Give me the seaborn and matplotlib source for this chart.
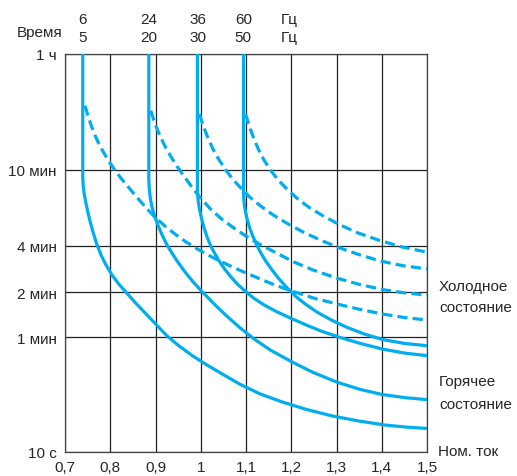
import numpy as np
import pandas as pd
import matplotlib
matplotlib.use("Agg")
import matplotlib.pyplot as plt
import seaborn as sns

# ---------------- data (current in p.u., time in seconds) ----------------
freq_top = ["6", "24", "36", "60"]
freq_bottom = ["5", "20", "30", "50"]
freq_pos = [0.739, 0.885, 0.993, 1.094]

# hot state (solid)
hot1_x = [0.7392, 0.7392, 0.7403, 0.7425, 0.7458, 0.7500, 0.7553, 0.7619, 0.7701, 0.7796, 0.7907,
          0.8040, 0.8195, 0.8372, 0.8571, 0.8792, 0.9013, 0.9257, 0.9522, 0.9810, 1.0119, 1.0473,
          1.0872, 1.1314, 1.1801, 1.2332, 1.2907, 1.3482, 1.4058, 1.4544, 1.5]
hot1_t = [3600, 551, 494, 449, 407, 365, 323, 283, 245, 209, 180,
          155, 135, 118, 101, 85.9, 73.1, 61.2, 52.4, 45.1, 39.2, 33.8,
          28.7, 24.7, 21.8, 19.4, 17.5, 16.2, 15.2, 14.7, 14.4]

hot2_x = [0.8852, 0.8852, 0.8863, 0.8885, 0.8918, 0.8960, 0.9013, 0.9080, 0.9157, 0.9250, 0.9367,
          0.9500, 0.9655, 0.9832, 1.0031, 1.0296, 1.0584, 1.0872, 1.1181, 1.1535, 1.1978, 1.2465,
          1.3011, 1.3527, 1.4007, 1.4522, 1.5]
hot2_t = [3600, 538, 477, 427, 388, 356, 327, 297, 270, 243, 214,
          187, 162, 140, 121, 100.2, 82.7, 69.3, 58.4, 49.2, 41.4, 34.8,
          29.7, 26.5, 24.5, 23.3, 22.6]

hot3_x = [0.9927, 0.9927, 0.9942, 0.9976, 1.0020, 1.0075, 1.0142, 1.0219, 1.0308, 1.0407, 1.0518,
          1.0650, 1.0805, 1.0982, 1.1181, 1.1403, 1.1668, 1.1978, 1.2332, 1.2686, 1.3084, 1.3527,
          1.4013, 1.45, 1.5]
hot3_t = [3600, 465, 412, 370, 331, 297, 266, 240, 214, 191, 171,
          153, 136, 122, 109, 98.7, 89.3, 80.8, 72.5, 65.6, 59.8, 54.5,
          49.9, 46.9, 45.0]

hot4_x = [1.0945, 1.0945, 1.0960, 1.0989, 1.1031, 1.1084, 1.1148, 1.1226, 1.1314, 1.1425, 1.1558,
          1.1712, 1.1889, 1.2088, 1.2310, 1.2566, 1.2885, 1.3239, 1.3615, 1.4013, 1.45, 1.5]
hot4_t = [3600, 443, 397, 361, 327, 297, 270, 245, 219, 193, 170,
          148.5, 130, 113.3, 100.2, 88.6, 78.3, 69.8, 63.1, 58.0, 54.5, 52.6]

# cold state (dashed)
cold1_x = [0.7442, 0.7509, 0.7575, 0.7642, 0.7730, 0.7841, 0.7951, 0.8084, 0.8217, 0.8372, 0.8527,
           0.8681, 0.8836, 0.9013, 0.9212, 0.9434, 0.9677, 0.9942, 1.0230, 1.0540, 1.0872, 1.1226,
           1.1602, 1.2022, 1.2487, 1.3011, 1.3527, 1.4013, 1.45, 1.5]
cold1_t = [1616, 1379, 1201, 1061, 924, 798, 700, 610, 551, 497, 449,
           407, 370, 335, 304, 276, 251, 227, 204, 184, 166, 150,
           135, 122, 110, 100.2, 92.1, 85.9, 81.4, 78.3]

cold2_x = [0.8896, 0.8947, 0.9013, 0.9102, 0.9212, 0.9345, 0.9478, 0.9633, 0.9810, 0.9987, 1.0208,
           1.0451, 1.0717, 1.1015, 1.1336, 1.1690, 1.2066, 1.2487, 1.2996, 1.3504, 1.4013, 1.45, 1.5]
cold2_t = [1496, 1337, 1173, 1013, 862, 733, 634, 555, 486, 430, 376,
           333, 299, 268, 242, 214, 188, 167, 148.5, 135, 125, 119, 115]

cold3_x = [0.9971, 1.0020, 1.0086, 1.0164, 1.0263, 1.0385, 1.0529, 1.0695, 1.0883, 1.1093, 1.1336,
           1.1602, 1.1912, 1.2265, 1.2642, 1.3040, 1.3482, 1.3969, 1.4478, 1.5]
cold3_t = [1422, 1277, 1120, 975, 836, 717, 614, 541, 483, 430, 386,
           348, 314, 283, 257, 234, 211, 191, 178, 170]

cold4_x = [1.0989, 1.1038, 1.1104, 1.1181, 1.1281, 1.1403, 1.1546, 1.1712, 1.1912, 1.2133, 1.2398,
           1.2708, 1.3062, 1.3460, 1.3925, 1.4434, 1.5]
cold4_t = [1422, 1277, 1111, 960, 817, 695, 597, 532, 474, 425, 381,
           344, 310, 281, 257, 236, 218]

x_ticks = [0.7, 0.8, 0.9, 1.0, 1.1, 1.2, 1.3, 1.4, 1.5]
x_labels = ["0,7", "0,8", "0,9", "1", "1,1", "1,2", "1,3", "1,4", "1,5"]
y_ticks = [10, 60, 120, 240, 600, 3600]
y_labels = ["10 с", "1 мин", "2 мин", "4 мин", "10 мин", "1 ч"]

# ---------------- figure ----------------
sns.set_style("white")
plt.rcParams["font.family"] = ["Liberation Sans", "DejaVu Sans"]
FS = 11
BLUE = "#00AEEF"

fig = plt.figure(figsize=(5.17, 4.77), dpi=100)
ax = fig.add_axes([65 / 517, (477 - 452.7) / 477, (427 - 65) / 517, (452.7 - 54.7) / 477])

# non-uniform time axis (as drawn in the original)
LOGK = np.log10(np.array(y_ticks, dtype=float))
POS = np.array([0, 114.4, 159.4, 206, 281.7, 398])


def fwd(t):
    return np.interp(np.log10(np.clip(np.asarray(t, dtype=float), 1e-6, None)), LOGK, POS)


def inv(p):
    return 10 ** np.interp(np.asarray(p, dtype=float), POS, LOGK)


ax.set_yscale("function", functions=(fwd, inv))

rows = []
for name, xs, ts, state in [
    ("c1", cold1_x, cold1_t, "cold"), ("c2", cold2_x, cold2_t, "cold"),
    ("c3", cold3_x, cold3_t, "cold"), ("c4", cold4_x, cold4_t, "cold"),
    ("h1", hot1_x, hot1_t, "hot"), ("h2", hot2_x, hot2_t, "hot"),
    ("h3", hot3_x, hot3_t, "hot"), ("h4", hot4_x, hot4_t, "hot"),
]:
    for i, (xv, tv) in enumerate(zip(xs, ts)):
        rows.append({"curve": name, "current": xv, "time": tv, "state": state, "order": i})
df = pd.DataFrame(rows)

for name, sub in df.groupby("curve", sort=False):
    dashed = sub["state"].iloc[0] == "cold"
    sns.lineplot(data=sub, x="current", y="time", sort=False, estimator=None,
                 color=BLUE, lw=2.3, ax=ax, legend=False,
                 linestyle=(0, (3.2, 1.6)) if dashed else "-",
                 solid_joinstyle="round", dash_joinstyle="round",
                 solid_capstyle="butt", zorder=3)

ax.set_xlim(0.7, 1.5)
ax.set_ylim(10, 3600)
ax.set_xticks(x_ticks)
ax.set_xticklabels(x_labels, fontsize=FS)
ax.set_yticks(y_ticks)
ax.set_yticklabels(y_labels, fontsize=FS)
ax.minorticks_off()
ax.tick_params(axis="both", direction="out", length=4, width=0.9, color="#222", pad=2)
ax.grid(True, color="#222", lw=0.9)
ax.set_axisbelow(True)
for s in ax.spines.values():
    s.set_color("#444")
    s.set_linewidth(0.9)
ax.set_xlabel("")
ax.set_ylabel("")

# frequency labels above the plot
for xp, a, b in zip(freq_pos, freq_top, freq_bottom):
    ax.text(xp, 1.0 + (54.7 - 20) / 398, a, ha="center", va="center", fontsize=FS,
            transform=ax.get_xaxis_transform())
    ax.text(xp, 1.0 + (54.7 - 38) / 398, b, ha="center", va="center", fontsize=FS,
            transform=ax.get_xaxis_transform())
fig.text(281 / 517, 1 - 20 / 477, "Гц", ha="left", va="center", fontsize=FS)
fig.text(281 / 517, 1 - 38 / 477, "Гц", ha="left", va="center", fontsize=FS)
fig.text(62 / 517, 1 - 33 / 477, "Время", ha="right", va="center", fontsize=FS)

fig.text(439 / 517, 1 - 286.7 / 477, "Холодное", ha="left", va="center", fontsize=FS)
fig.text(439 / 517, 1 - 308 / 477, "состояние", ha="left", va="center", fontsize=FS)
fig.text(439 / 517, 1 - 382 / 477, "Горячее", ha="left", va="center", fontsize=FS)
fig.text(439 / 517, 1 - 405 / 477, "состояние", ha="left", va="center", fontsize=FS)
fig.text(438 / 517, 1 - 452 / 477, "Ном. ток", ha="left", va="center", fontsize=FS)

fig.savefig("out.png", dpi=100)
